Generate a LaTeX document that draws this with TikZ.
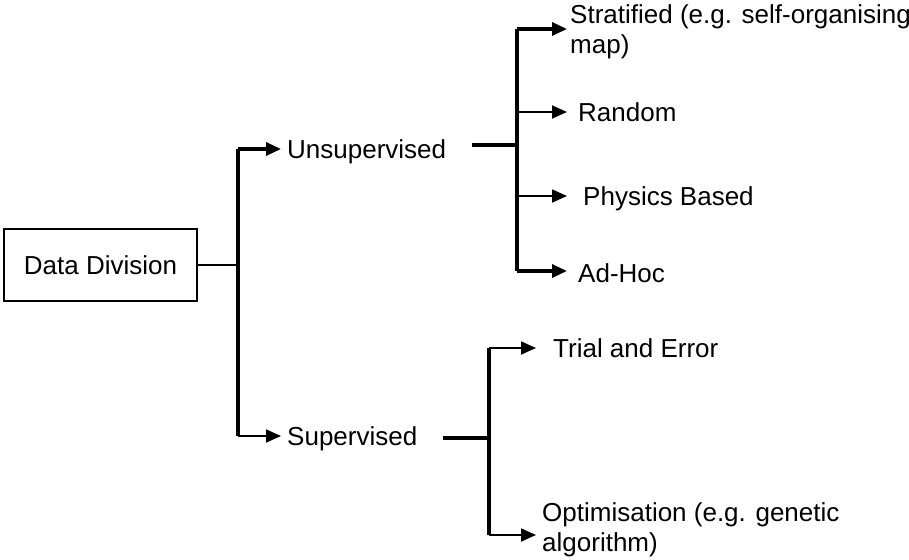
\documentclass[tikz,border=0pt]{standalone}
\usepackage{fontspec}
\setmainfont{Liberation Sans}
\usetikzlibrary{arrows.meta}
\begin{document}
\begin{tikzpicture}[x=1pt,y=-1pt,
  lbl/.style={anchor=west,inner ysep=0pt,text height=18.5pt,text depth=0pt,
    font=\fontsize{26}{30}\selectfont},
  mlbl/.style={anchor=north west,inner sep=0pt,align=left,
    font=\fontsize{26}{30}\selectfont},
  trunk/.style={line width=3.5pt},
  thin/.style={line width=1.8pt},
  thick/.style={line width=3.2pt},
  tip/.style={-{Triangle[length=15pt 0 0,width=13pt 0 0]}},
]
\useasboundingbox (0,0) rectangle (909,559);

% root box
\node[draw,line width=1.4pt,minimum width=193pt,minimum height=72pt,inner sep=0pt,
  font=\fontsize{26}{30}\selectfont] (dd) at (100.5,265) {Data Division};

% first-level split
\coordinate (t1top) at (238,149);
\coordinate (t1bot) at (238,436);
\node[lbl,inner xsep=6pt] (uns) at (281,149) {Unsupervised};
\node[lbl,inner xsep=6pt] (sup) at (281,436) {Supervised};
\draw[thin] (dd.east) -- (t1top |- dd.east);
\draw[trunk] (t1top) -- (t1bot);
\draw[thick,tip] (t1top) -- (uns.west);
\draw[thin,tip] (t1bot) -- (sup.west);

% unsupervised methods
\coordinate (s1) at (472,145);
\coordinate (t2) at (517,145);
\coordinate (t2top) at (517,29);
\coordinate (t2bot) at (517,271);
\coordinate (strat) at (567,29);
\node[mlbl] (stratl) at (570,4) {Stratified (e.g. self-organising\\map)};
\node[lbl,inner xsep=11pt] (rand) at (567,112) {Random};
\node[lbl,inner xsep=16pt] (phys) at (567,196) {Physics Based};
\node[lbl,inner xsep=11pt] (adhoc) at (567,273) {Ad-Hoc};
\draw[thick] (s1) -- (t2);
\draw[trunk] (t2top) -- (t2bot);
\draw[thick,tip] (t2top) -- (strat);
\draw[thin,tip] (515,112) -- (rand.west);
\draw[thin,tip] (515,196) -- (phys.west);
\draw[thick,tip] (t2bot) -- (adhoc.west |- t2bot);

% supervised methods
\coordinate (s2) at (443,438);
\coordinate (t3) at (489,438);
\coordinate (t3top) at (489,348);
\coordinate (t3bot) at (489,535);
\coordinate (opt) at (536,535);
\node[lbl,inner xsep=17pt] (trial) at (536,348) {Trial and Error};
\node[mlbl] (optl) at (542,502) {Optimisation (e.g. genetic\\algorithm)};
\draw[thick] (s2) -- (t3);
\draw[trunk] (t3top) -- (t3bot);
\draw[thin,tip] (t3top) -- (trial.west);
\draw[thin,tip] (t3bot) -- (opt);
\end{tikzpicture}
\end{document}
